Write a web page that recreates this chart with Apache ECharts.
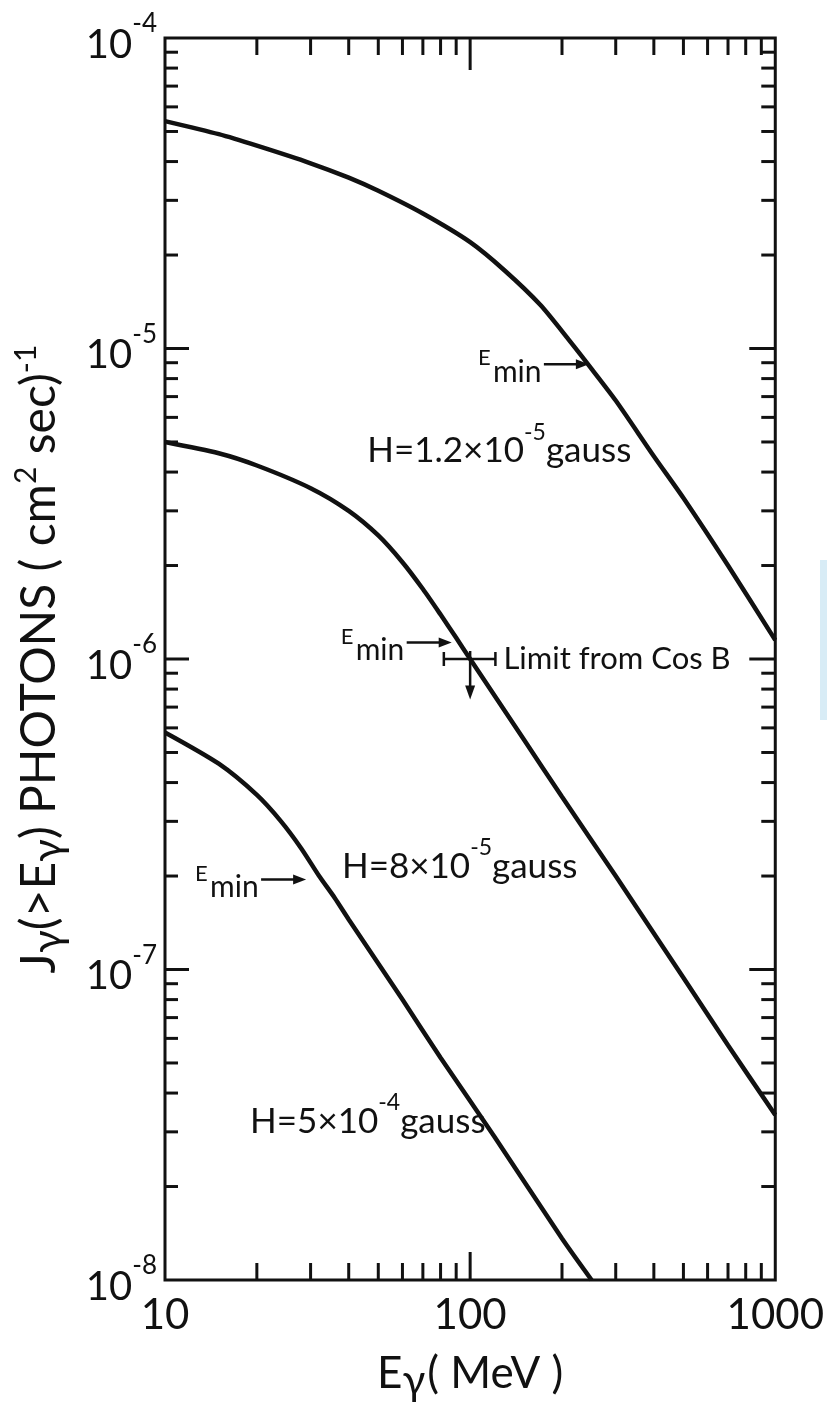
<!DOCTYPE html>
<html>
<head>
<meta charset="utf-8">
<title>Gamma-ray flux J(>E)</title>
<script src="https://cdn.jsdelivr.net/npm/echarts@6/dist/echarts.min.js"></script>
<style>
  html, body { margin: 0; padding: 0; background: #ffffff; }
  #chart { width: 827px; height: 1415px; }
</style>
</head>
<body>
<div id="chart"></div>
<script>
// Integral photon flux J(>E) in (cm^2 sec)^-1 versus photon energy E in MeV
const energyHigh = [10, 15, 20, 30, 40, 50, 70, 100, 130, 170, 210, 250, 300, 400, 500, 700, 1000];
const fluxHigh   = [5.4e-5, 4.9e-5, 4.5e-5, 3.95e-5, 3.55e-5, 3.22e-5, 2.72e-5, 2.2e-5, 1.78e-5, 1.38e-5, 1.07e-5, 8.6e-6, 6.8e-6, 4.5e-6, 3.3e-6, 2.0e-6, 1.15e-6];

const energyMid = [10, 15, 20, 30, 40, 50, 60, 70, 80, 90, 100, 150, 200, 300, 500, 700, 1000];
const fluxMid   = [5.0e-6, 4.6e-6, 4.2e-6, 3.55e-6, 3.0e-6, 2.5e-6, 2.05e-6, 1.68e-6, 1.39e-6, 1.17e-6, 1.0e-6, 5.5e-7, 3.6e-7, 2.0e-7, 9.4e-8, 5.7e-8, 3.4e-8];

const energyLow = [10, 15, 20, 24, 28, 32, 36, 40, 60, 80, 120, 200, 250];
const fluxLow   = [5.8e-7, 4.6e-7, 3.65e-7, 3.0e-7, 2.45e-7, 2.0e-7, 1.7e-7, 1.45e-7, 8.0e-8, 5.2e-8, 2.9e-8, 1.36e-8, 1.0e-8];

// Field strengths of the three curves
const fieldMantissa = ['1.2', '8', '5'];
const fieldExponent = ['-5', '-5', '-4'];

// E_min arrow tips (E, J)
const eminEnergy = [245, 87, 29];
const eminFlux   = [8.9e-6, 1.13e-6, 1.95e-7];

// COS-B upper limit: central point, energy bin, arrow end
const cosBPoint  = [100, 1.0e-6];
const cosBRange  = [82, 121];
const cosBArrowTo = 7.4e-7;

// Axis ticks
const xMajorTicks = [10, 100, 1000];
const xTickLabels = ['10', '100', '1000'];
const xMinorTicks = [20, 30, 40, 50, 60, 70, 80, 90, 200, 300, 400, 500, 600, 700, 800, 900];
const yMajorTicks = [1e-8, 1e-7, 1e-6, 1e-5, 1e-4];
const yTickExponents = ['-8', '-7', '-6', '-5', '-4'];
const yMinorMantissas = [2, 3, 4, 5, 6, 7, 8, 9];

const FONT = 'Lato, "Open Sans", sans-serif';
const INK = '#111111';

const pairs = (xs, ys) => xs.map((x, i) => [x, ys[i]]);

// tick records: [x, y, kind]  kind 0 = x minor, 1 = x major, 2 = y minor, 3 = y major
const tickRecords = [];
xMinorTicks.forEach(v => tickRecords.push([v, 1e-6, 0]));
xMajorTicks.slice(1, -1).forEach(v => tickRecords.push([v, 1e-6, 1]));
yMajorTicks.slice(0, -1).forEach(d => yMinorMantissas.forEach(m => tickRecords.push([100, d * m, 2])));
yMajorTicks.slice(1, -1).forEach(v => tickRecords.push([100, v, 3]));

function seg(x1, y1, x2, y2, w) {
  return { type: 'line', shape: { x1, y1, x2, y2 }, style: { stroke: INK, lineWidth: w } };
}

function renderTicks(params, api) {
  const cs = params.coordSys;
  const kind = api.value(2);
  const p = api.coord([api.value(0), api.value(1)]);
  const left = cs.x, right = cs.x + cs.width, top = cs.y, bottom = cs.y + cs.height;
  if (kind < 2) {
    const lb = kind === 1 ? 28 : 17;
    const lt = kind === 1 ? 32 : 17;
    return { type: 'group', children: [
      seg(p[0], bottom, p[0], bottom - lb, 3),
      seg(p[0], top, p[0], top + lt, 3)
    ]};
  }
  const ll = kind === 3 ? 24 : 13;
  const lr = kind === 3 ? 26 : 14;
  return { type: 'group', children: [
    seg(left, p[1], left + ll, p[1], 3),
    seg(right, p[1], right - lr, p[1], 3)
  ]};
}

// "E_min ->" marker: arrow ends at the data point, label sits to its left
function renderEmin(params, api) {
  const p = api.coord([api.value(0), api.value(1)]);
  const tipX = p[0], y = p[1];
  return { type: 'group', children: [
    seg(tipX - 45, y, tipX - 10, y, 2.5),
    { type: 'polygon', shape: { points: [[tipX, y], [tipX - 13, y - 5], [tipX - 13, y + 5]] }, style: { fill: INK } },
    { type: 'text', style: { text: 'min', x: tipX - 96, y: y + 8, align: 'left', verticalAlign: 'middle', font: '30px ' + FONT, fill: INK } },
    { type: 'text', style: { text: 'E', x: tipX - 111, y: y - 6, align: 'left', verticalAlign: 'middle', font: '22px ' + FONT, fill: INK } }
  ]};
}

function renderCosB(params, api) {
  const c = api.coord([api.value(0), api.value(1)]);
  const lo = api.coord([api.value(2), api.value(1)]);
  const hi = api.coord([api.value(3), api.value(1)]);
  const dn = api.coord([api.value(0), api.value(4)]);
  return { type: 'group', children: [
    seg(lo[0], c[1], hi[0], c[1], 2.5),
    seg(lo[0], c[1] - 7, lo[0], c[1] + 7, 2.5),
    seg(hi[0], c[1] - 7, hi[0], c[1] + 7, 2.5),
    seg(c[0], c[1] - 8, c[0], dn[1] - 10, 2.5),
    { type: 'polygon', shape: { points: [[c[0], dn[1]], [c[0] - 5, dn[1] - 14], [c[0] + 5, dn[1] - 14]] }, style: { fill: INK } },
    { type: 'text', style: { text: 'Limit from Cos B', x: hi[0] + 8, y: c[1], align: 'left', verticalAlign: 'middle', font: '31px ' + FONT, fill: INK } }
  ]};
}

// left-middle anchors of the field-strength captions
const captionAnchors = [[46, 4.9e-6], [38, 2.25e-7], [19, 3.4e-8]];

function renderCaption(params, api) {
  const p = api.coord([api.value(0), api.value(1)]);
  const i = params.dataIndex;
  return {
    type: 'text',
    x: p[0], y: p[1],
    style: {
      text: '{a|H=' + fieldMantissa[i] + '×10}{s|' + fieldExponent[i] + '}{a|gauss}',
      align: 'left', verticalAlign: 'middle',
      rich: {
        a: { fontFamily: FONT, fontSize: 35, lineHeight: 48, verticalAlign: 'bottom', fill: INK },
        s: { fontFamily: FONT, fontSize: 23, lineHeight: 24, verticalAlign: 'top', fill: INK }
      }
    }
  };
}

const curveStyle = { color: INK, width: 4.5 };
function curve(name, data) {
  return { name, type: 'line', data, symbol: 'none', smooth: 0.25,
    lineStyle: curveStyle, itemStyle: { color: INK }, silent: true, z: 3 };
}

const chart = echarts.init(document.getElementById('chart'));
chart.setOption({
  backgroundColor: '#ffffff',
  animation: false,
  grid: { left: 165, right: 40, top: 38, bottom: 135, show: true, borderColor: INK, borderWidth: 3, backgroundColor: 'transparent' },
  xAxis: {
    type: 'log', logBase: 10, min: 10, max: 1000,
    axisLine: { show: false }, axisTick: { show: false }, splitLine: { show: false },
    axisLabel: {
      margin: 14, fontFamily: FONT, fontSize: 42, color: INK,
      formatter: (v, i) => xTickLabels[i]
    },
    name: '{a|E}{g|γ}{a|( MeV )}',
    nameLocation: 'middle', nameGap: 72,
    nameTextStyle: {
      rich: {
        a: { fontFamily: FONT, fontSize: 44, lineHeight: 50, verticalAlign: 'top', color: INK },
        g: { fontFamily: FONT, fontSize: 42, lineHeight: 34, verticalAlign: 'bottom', color: INK, padding: [0, 2, 0, 0] }
      }
    }
  },
  yAxis: {
    type: 'log', logBase: 10, min: 1e-8, max: 1e-4,
    axisLine: { show: false }, axisTick: { show: false }, splitLine: { show: false },
    axisLabel: {
      margin: 8, color: INK,
      formatter: (v, i) => '{b|10}{s|' + yTickExponents[i] + '}',
      rich: {
        b: { fontFamily: FONT, fontSize: 40, lineHeight: 54, verticalAlign: 'bottom', color: INK },
        s: { fontFamily: FONT, fontSize: 26, lineHeight: 26, verticalAlign: 'top', color: INK }
      }
    },
    name: '{a|J}{g|γ}{a|(>E}{g|γ}{a|) PHOTONS ( cm}{s|2}{a| sec)}{s|-1}',
    nameLocation: 'middle', nameGap: 96, nameRotate: 90,
    nameTextStyle: {
      rich: {
        a: { fontFamily: FONT, fontSize: 48, lineHeight: 58, verticalAlign: 'middle', color: INK },
        g: { fontFamily: FONT, fontSize: 42, lineHeight: 30, verticalAlign: 'bottom', color: INK },
        s: { fontFamily: FONT, fontSize: 30, lineHeight: 30, verticalAlign: 'top', color: INK }
      }
    }
  },
  series: [
    curve('H=1.2e-5', pairs(energyHigh, fluxHigh)),
    curve('H=8e-5', pairs(energyMid, fluxMid)),
    curve('H=5e-4', pairs(energyLow, fluxLow)),
    { type: 'custom', name: 'ticks', renderItem: renderTicks, data: tickRecords, silent: true, z: 4 },
    { type: 'custom', name: 'emin', renderItem: renderEmin, data: pairs(eminEnergy, eminFlux), silent: true, z: 5 },
    { type: 'custom', name: 'cosB', renderItem: renderCosB,
      data: [[cosBPoint[0], cosBPoint[1], cosBRange[0], cosBRange[1], cosBArrowTo]], silent: true, z: 5 },
    { type: 'custom', name: 'captions', renderItem: renderCaption, data: captionAnchors, silent: true, z: 5 }
  ],
  graphic: [
    { type: 'rect', right: 0, top: 560, shape: { width: 7, height: 160 }, style: { fill: '#d8ecf6' }, silent: true }
  ]
});
</script>
</body>
</html>
